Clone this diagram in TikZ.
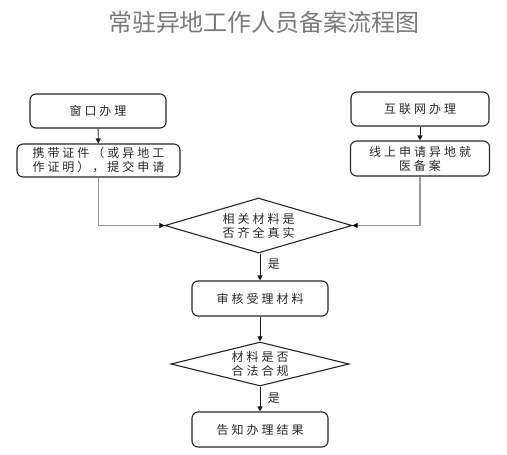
\documentclass[tikz,border=0pt]{standalone}
\usepackage{fontspec}
\newfontfamily\titlefont{Noto Sans CJK SC}
\newfontfamily\boxfont[LetterSpace=25]{Noto Sans CJK SC}
\usetikzlibrary{shapes.geometric,arrows.meta,positioning}

\begin{document}
\begin{tikzpicture}[x=1pt,y=-1pt,
  box/.style={draw=black!85, line width=1.1pt, rounded corners=6pt, inner sep=0pt,
    align=center, text=black!85, font=\boxfont\fontsize{12}{14}\selectfont},
  check/.style={draw=black!85, line width=1.1pt, shape=diamond, inner sep=0pt,
    align=center, text=black!85, font=\boxfont\fontsize{12}{14}\selectfont},
  link/.style={draw=black!90, line width=0.9pt, -{Triangle[length=5pt,width=5pt]}},
  side/.style={draw=black!40, line width=1.1pt, -{Triangle[length=5pt,width=5pt,color=black]}},
  yes/.style={font=\boxfont\fontsize{12}{14}\selectfont, text=black!85}]
\useasboundingbox (0,0) rectangle (507,455);

\node[font=\titlefont\fontsize{24}{26}\selectfont, text=black!52] (title) at (264,22) {常驻异地工作人员备案流程图};

\node[box, minimum width=136pt, minimum height=34pt] (win) at (98,111) {窗口办理};
\node[box, minimum width=163pt, minimum height=33pt] (winapp) at (98.5,160.5) {携带证件（或异地工\\作证明），提交申请};

\node[box, minimum width=138pt, minimum height=34pt] (net) at (420,109) {互联网办理};
\node[box, minimum width=139pt, minimum height=35pt] (netapp) at (420,158.5) {线上申请异地就\\医备案};

\node[check, aspect=3.4, minimum width=187pt, minimum height=55pt] (chk1) at (258.5,225.5) {相关材料是\\否齐全真实};
\node[box, minimum width=136pt, minimum height=35pt] (review) at (260,298.5) {审核受理材料};
\node[check, aspect=4, minimum width=178pt, minimum height=44pt] (chk2) at (260,364) {材料是否\\合法合规};
\node[box, minimum width=136pt, minimum height=35pt] (result) at (260,429.5) {告知办理结果};

\draw[link] (win) -- (winapp);
\draw[link] (net) -- (netapp);
\draw[side] (winapp.south) |- (chk1.west);
\draw[side] (netapp.south) |- (chk1.east);
\draw[link] (chk1.south -| review.north) -- node[yes, right=4pt, pos=0.4] {是} (review.north);
\draw[link] (review) -- (chk2);
\draw[link] (chk2) -- node[yes, right=4pt, pos=0.45] {是} (result);
\end{tikzpicture}
\end{document}
